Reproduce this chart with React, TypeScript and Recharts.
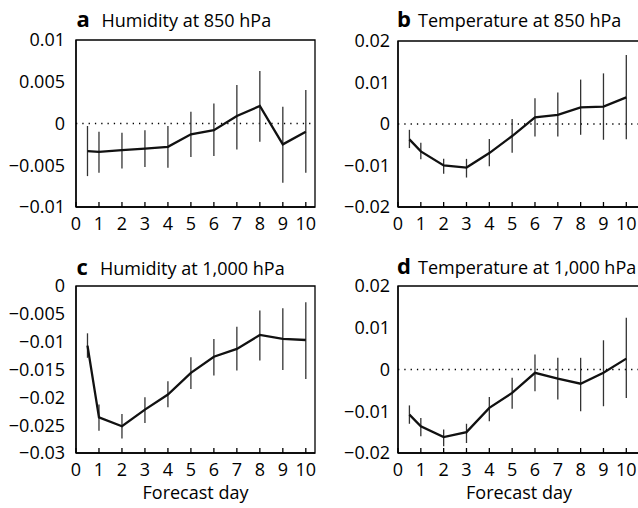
import { LineChart, Line, XAxis, YAxis, ErrorBar, ReferenceLine, ReferenceArea } from "recharts"

const days = [0.5, 1, 2, 3, 4, 5, 6, 7, 8, 9, 10]
const dayTicks = [0, 1, 2, 3, 4, 5, 6, 7, 8, 9, 10]

// a: humidity at 850 hPa
const humid850 = [-0.0033, -0.0034, -0.0032, -0.003, -0.0028, -0.0013, -0.0008, 0.0009, 0.0021, -0.0025, -0.001]
const humid850Lo = [-0.0063, -0.0059, -0.0054, -0.0052, -0.0053, -0.004, -0.0039, -0.0031, -0.0022, -0.0071, -0.0059]
const humid850Hi = [-0.0003, -0.001, -0.0011, -0.0008, -0.0003, 0.0014, 0.0024, 0.0046, 0.0063, 0.002, 0.004]

// b: temperature at 850 hPa
const temp850 = [-0.0037, -0.0066, -0.01, -0.0105, -0.007, -0.0029, 0.0016, 0.0022, 0.004, 0.0042, 0.0064]
const temp850Lo = [-0.0058, -0.0085, -0.012, -0.0129, -0.0102, -0.0069, -0.003, -0.003, -0.0026, -0.0038, -0.0037]
const temp850Hi = [-0.0014, -0.0045, -0.0084, -0.0084, -0.0036, 0.0012, 0.0062, 0.0076, 0.0107, 0.0122, 0.0166]

// c: humidity at 1,000 hPa
const humid1000 = [-0.0107, -0.0236, -0.0252, -0.0222, -0.0195, -0.0156, -0.0127, -0.0113, -0.0088, -0.0095, -0.0097]
const humid1000Lo = [-0.0129, -0.026, -0.0274, -0.0246, -0.0218, -0.0185, -0.0161, -0.0152, -0.0134, -0.0151, -0.0167]
const humid1000Hi = [-0.0085, -0.0213, -0.023, -0.02, -0.0171, -0.0128, -0.0095, -0.0073, -0.0044, -0.004, -0.0029]

// d: temperature at 1,000 hPa
const temp1000 = [-0.0108, -0.0136, -0.0162, -0.015, -0.0092, -0.0056, -0.0008, -0.0022, -0.0034, -0.0008, 0.0026]
const temp1000Lo = [-0.013, -0.016, -0.0184, -0.0176, -0.0124, -0.0094, -0.0052, -0.0072, -0.01, -0.0088, -0.0068]
const temp1000Hi = [-0.0086, -0.0116, -0.0144, -0.013, -0.0066, -0.002, 0.0036, 0.0028, 0.0028, 0.007, 0.0124]

const ticksSmall = [-0.01, -0.005, 0, 0.005, 0.01]
const ticksTemp = [-0.02, -0.01, 0, 0.01, 0.02]
const ticksHumid1000 = [-0.03, -0.025, -0.02, -0.015, -0.01, -0.005, 0]

const FONT = "'Open Sans', sans-serif"

const fmt = (v: number) => (v < 0 ? "\u2212" : "") + String(Math.abs(v))

interface PanelProps {
  left: number
  top: number
  width: number
  height: number
  margin: { top: number; right: number; left: number; bottom: number }
  yWidth: number
  yTickMargin: number
  xHeight: number
  xMax: number
  yTicks: number[]
  values: number[]
  lo: number[]
  hi: number[]
  zeroLine: boolean
  xLabel?: string
}

function Panel(p: PanelProps) {
  const data = days.map((d, i) => ({
    day: d,
    value: p.values[i],
    err: [p.values[i] - p.lo[i], p.hi[i] - p.values[i]],
  }))
  const yMin = p.yTicks[0]
  const yMax = p.yTicks[p.yTicks.length - 1]
  return (
    <div style={{ position: "absolute", left: p.left, top: p.top }}>
      <LineChart width={p.width} height={p.height} data={data} margin={p.margin}>
        <XAxis
          dataKey="day"
          type="number"
          domain={[0, p.xMax]}
          ticks={dayTicks}
          interval={0}
          allowDataOverflow
          stroke="#000"
          strokeWidth={1.3}
          tickSize={-5}
          tickMargin={15}
          height={p.xHeight}
          tick={{ fill: "#000", fontSize: 18, fontFamily: FONT }}
          label={
            p.xLabel
              ? { value: p.xLabel, position: "insideBottom", offset: 9, fill: "#000", fontSize: 18, fontFamily: FONT }
              : undefined
          }
        />
        <YAxis
          type="number"
          domain={[yMin, yMax]}
          ticks={p.yTicks}
          interval={0}
          allowDataOverflow
          width={p.yWidth}
          stroke="#000"
          strokeWidth={1.3}
          tickLine={false}
          tickSize={0}
          tickMargin={p.yTickMargin}
          tickFormatter={fmt}
          tick={{ fill: "#000", fontSize: 18, fontFamily: FONT }}
        />
        <ReferenceArea x1={0} x2={p.xMax} y1={yMin} y2={yMax} fill="none" stroke="#000" strokeWidth={1.3} />
        {p.zeroLine && <ReferenceLine y={0} stroke="#000" strokeWidth={1.3} strokeDasharray="1.3 5" />}
        <Line
          type="linear"
          dataKey="value"
          stroke="#111"
          strokeWidth={2.3}
          dot={false}
          activeDot={false}
          isAnimationActive={false}
        >
          <ErrorBar dataKey="err" width={0} stroke="#333" strokeWidth={1.3} direction="y" isAnimationActive={false} />
        </Line>
      </LineChart>
    </div>
  )
}

export default function App() {
  return (
    <div
      style={{
        position: "absolute",
        left: 0,
        top: 0,
        width: 638,
        height: 508,
        overflow: "hidden",
        background: "#fff",
        fontFamily: FONT,
      }}
    >
      <Panel
        left={0}
        top={0}
        width={319}
        height={254}
        margin={{ top: 40, right: 4, left: 0, bottom: 0 }}
        yWidth={76}
        yTickMargin={11}
        xHeight={47}
        xMax={10.4}
        yTicks={ticksSmall}
        values={humid850}
        lo={humid850Lo}
        hi={humid850Hi}
        zeroLine
      />
      <Panel
        left={319}
        top={0}
        width={324}
        height={254}
        margin={{ top: 41, right: 3, left: 0, bottom: 0 }}
        yWidth={79}
        yTickMargin={8}
        xHeight={47}
        xMax={10.6}
        yTicks={ticksTemp}
        values={temp850}
        lo={temp850Lo}
        hi={temp850Hi}
        zeroLine
      />
      <Panel
        left={0}
        top={254}
        width={319}
        height={254}
        margin={{ top: 32, right: 4, left: 0, bottom: 0 }}
        yWidth={76}
        yTickMargin={11}
        xHeight={55}
        xMax={10.4}
        yTicks={ticksHumid1000}
        values={humid1000}
        lo={humid1000Lo}
        hi={humid1000Hi}
        zeroLine={false}
        xLabel="Forecast day"
      />
      <Panel
        left={319}
        top={254}
        width={324}
        height={254}
        margin={{ top: 32, right: 3, left: 0, bottom: 0 }}
        yWidth={79}
        yTickMargin={8}
        xHeight={55}
        xMax={10.6}
        yTicks={ticksTemp}
        values={temp1000}
        lo={temp1000Lo}
        hi={temp1000Hi}
        zeroLine
        xLabel="Forecast day"
      />
      <svg
        width={638}
        height={508}
        style={{ position: "absolute", left: 0, top: 0, pointerEvents: "none" }}
        fontFamily={FONT}
      >
        <text x={76.5} y={26.7} fontSize={22} fontWeight="bold" fill="#000">a</text>
        <text x={101.5} y={26.7} fontSize={18} fill="#000">Humidity at 850 hPa</text>
        <text x={397} y={26.7} fontSize={22} fontWeight="bold" fill="#000">b</text>
        <text x={418} y={26.7} fontSize={18} fill="#000">Temperature at 850 hPa</text>
        <text x={76.5} y={274.7} fontSize={22} fontWeight="bold" fill="#000">c</text>
        <text x={100} y={274.7} fontSize={18} fill="#000">Humidity at 1,000 hPa</text>
        <text x={397} y={274} fontSize={22} fontWeight="bold" fill="#000">d</text>
        <text x={418} y={274} fontSize={18} fill="#000">Temperature at 1,000 hPa</text>
      </svg>
    </div>
  )
}
